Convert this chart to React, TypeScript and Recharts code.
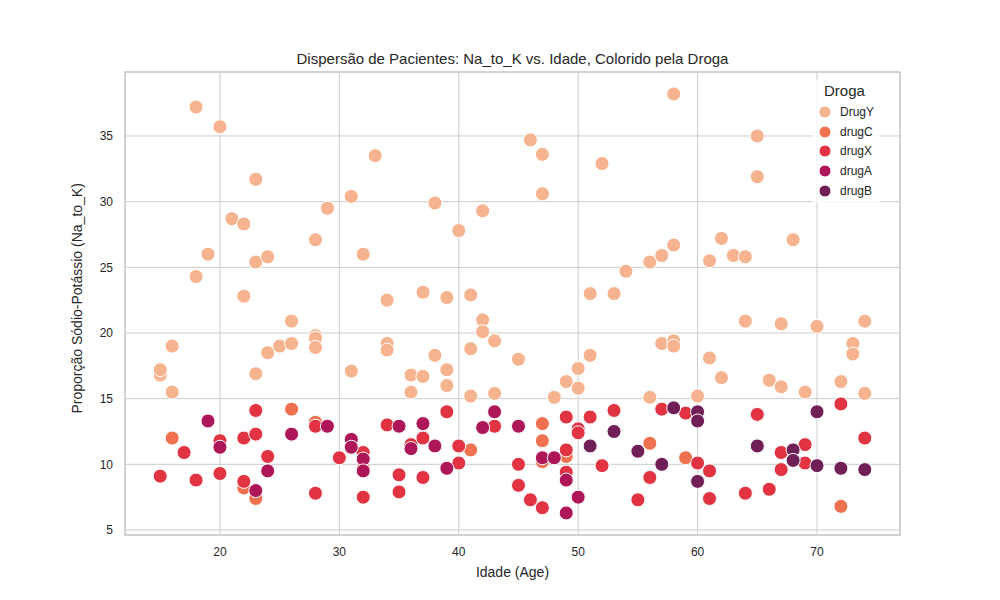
import { ScatterChart, Scatter, XAxis, YAxis, CartesianGrid, ReferenceArea } from 'recharts';

// [age, Na_to_K]
const drugY: [number, number][] = [
  [15, 16.8], [15, 17.2], [16, 19], [16, 15.5], [18, 37.2], [18, 24.3], [19, 26], [20, 35.7], [21, 28.7],
  [22, 28.3], [22, 22.8], [23, 31.7], [23, 25.4], [23, 16.9], [24, 25.8], [24, 18.5], [25, 19], [26, 20.9],
  [26, 19.2], [28, 27.1], [28, 19.8], [28, 19.6], [28, 18.9], [29, 29.5], [31, 30.4], [31, 17.1], [32, 26],
  [33, 33.5], [34, 22.5], [34, 19.2], [34, 18.7], [36, 16.8], [36, 15.5], [37, 23.1], [37, 16.7], [38, 29.9],
  [38, 18.3], [39, 22.7], [39, 17.2], [39, 16], [40, 27.8], [41, 22.9], [41, 18.8], [41, 15.2], [42, 29.3],
  [42, 21], [42, 20.1], [43, 19.4], [43, 15.4], [45, 18], [46, 34.7], [47, 33.6], [47, 30.6], [48, 15.1],
  [49, 16.3], [50, 17.3], [50, 15.8], [51, 23], [51, 18.3], [52, 32.9], [53, 23], [54, 24.7], [56, 25.4],
  [56, 15.1], [57, 25.9], [57, 19.2], [58, 38.2], [58, 26.7], [58, 19.4], [58, 19], [60, 15.2], [61, 25.5],
  [61, 18.1], [62, 27.2], [62, 16.6], [63, 25.9], [64, 25.8], [64, 20.9], [65, 35], [65, 31.9], [66, 16.4],
  [67, 20.7], [67, 15.9], [68, 27.1], [69, 15.5], [70, 20.5], [72, 16.3], [73, 19.2], [73, 18.4], [74, 20.9],
  [74, 15.4],
];
const drugC: [number, number][] = [
  [16, 12], [22, 8.2], [23, 7.4], [26, 14.2], [28, 13.2], [32, 9.7], [41, 11.1], [47, 13.1], [47, 11.8],
  [47, 10.2], [49, 10.6], [56, 11.6], [59, 10.5], [72, 6.8],
];
const drugX: [number, number][] = [
  [15, 9.1], [17, 10.9], [18, 8.8], [20, 11.8], [20, 9.3], [22, 12], [22, 8.7], [23, 14.1], [23, 12.3],
  [24, 10.6], [28, 12.9], [28, 7.8], [30, 10.5], [32, 10.9], [32, 7.5], [34, 13], [35, 9.2], [35, 7.9],
  [36, 11.5], [37, 12], [37, 9], [39, 14], [40, 11.4], [40, 10.1], [43, 12.9], [45, 10], [45, 8.4], [46, 7.3],
  [47, 6.7], [49, 13.6], [49, 11.1], [49, 9.4], [50, 12.7], [50, 12.4], [51, 13.6], [52, 9.9], [53, 14.1],
  [55, 7.3], [56, 9], [57, 14.2], [59, 13.9], [60, 10.1], [61, 9.5], [61, 7.4], [64, 7.8], [65, 13.8],
  [66, 8.1], [67, 10.9], [67, 9.6], [69, 11.5], [69, 10.1], [72, 14.6], [74, 12],
];
const drugA: [number, number][] = [
  [19, 13.3], [20, 11.3], [23, 8], [24, 9.5], [26, 12.3], [29, 12.9], [31, 11.9], [31, 11.3], [32, 10.4],
  [32, 9.5], [35, 12.9], [36, 11.2], [37, 13.1], [38, 11.4], [39, 9.7], [42, 12.8], [43, 14], [45, 12.9],
  [47, 10.5], [48, 10.5], [49, 8.8], [49, 6.3], [50, 7.5],
];
const drugB: [number, number][] = [
  [51, 11.4], [53, 12.5], [55, 11], [57, 10], [58, 14.3], [60, 14], [60, 13.3], [60, 8.7], [65, 11.4],
  [68, 11.1], [68, 10.3], [70, 14], [70, 9.9], [72, 9.7], [74, 9.6],
];

const xTicks = [20, 30, 40, 50, 60, 70];
const yTicks = [5, 10, 15, 20, 25, 30, 35];

const series = [
  { name: 'DrugY', data: drugY, color: '#F5B48F' },
  { name: 'drugC', data: drugC, color: '#F07150' },
  { name: 'drugX', data: drugX, color: '#E13342' },
  { name: 'drugA', data: drugA, color: '#AD1759' },
  { name: 'drugB', data: drugB, color: '#701F57' },
];

const font = '"Liberation Sans", Arial, sans-serif';
const tick = { fill: '#262626', fontSize: 12, fontFamily: font };

function DrugLegend() {
  return (
    <div style={{ position: 'absolute', top: 80, left: 812, fontFamily: font, color: '#262626', background: 'rgba(255,255,255,0.8)', padding: '2px 6px' }}>
      <div style={{ fontSize: 15, marginBottom: 3, marginLeft: 6 }}>Droga</div>
      {series.map((s) => (
        <div key={s.name} style={{ display: 'flex', alignItems: 'center', height: 19.8, fontSize: 12 }}>
          <svg width={14} height={14} style={{ marginRight: 8 }}>
            <circle cx={7} cy={7} r={6} fill={s.color} stroke="#fff" />
          </svg>
          {s.name}
        </div>
      ))}
    </div>
  );
}

export default function App() {
  return (
    <div style={{ position: 'absolute', left: 0, top: 0, width: 1000, height: 600, background: '#fff' }}>
      <div style={{ position: 'absolute', top: 50, left: 0, width: 1025, textAlign: 'center', fontFamily: font, fontSize: 15, color: '#262626' }}>
        Dispersão de Pacientes: Na_to_K vs. Idade, Colorido pela Droga
      </div>
      <ScatterChart width={1000} height={600} margin={{ top: 72, right: 100, bottom: 0, left: 65 }}>
        <CartesianGrid stroke="#cccccc" strokeWidth={1} />
        <XAxis
          type="number"
          dataKey="x"
          domain={[12.05, 76.95]}
          ticks={xTicks}
          allowDataOverflow
          axisLine={false}
          tickLine={false}
          tick={tick}
          height={65}
          tickMargin={6}
          label={{ value: 'Idade (Age)', position: 'insideBottom', offset: 23, fill: '#262626', fontSize: 14, fontFamily: font }}
        />
        <YAxis
          type="number"
          dataKey="y"
          domain={[4.62, 39.87]}
          ticks={yTicks}
          allowDataOverflow
          axisLine={false}
          tickLine={false}
          tick={tick}
          width={60}
          tickMargin={6}
          label={{ value: 'Proporção Sódio-Potássio (Na_to_K)', angle: -90, position: 'insideLeft', offset: 12, dy: 110, fill: '#262626', fontSize: 14, fontFamily: font }}
        />
        <ReferenceArea x1={12.05} x2={76.95} y1={4.62} y2={39.87} fill="none" stroke="#cccccc" strokeWidth={1.5} />
        {series.map((s) => (
          <Scatter
            key={s.name}
            name={s.name}
            data={s.data.map(([x, y]) => ({ x, y }))}
            isAnimationActive={false}
            shape={(p: any) => <circle cx={p.cx} cy={p.cy} r={7} fill={s.color} stroke="#fff" strokeWidth={1} />}
          />
        ))}
      </ScatterChart>
      <DrugLegend />
    </div>
  );
}
